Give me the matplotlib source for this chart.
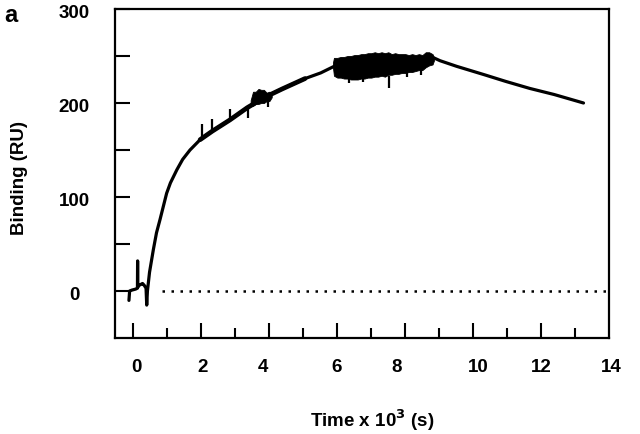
import matplotlib
matplotlib.use("Agg")
import matplotlib.pyplot as plt
import matplotlib.transforms as mtransforms

plt.rcParams['font.family'] = ['Liberation Sans', 'DejaVu Sans']
plt.rcParams['font.weight'] = 'bold'

# main sensorgram trace (time x 10^3 s, binding RU)
time_k = [-0.13, -0.11, -0.04, 0.065, 0.12, 0.125, 0.13, 0.168, 0.22, 0.27, 0.32, 0.373,
          0.393, 0.414, 0.476, 0.588, 0.681, 0.784, 0.979, 1.09, 1.28, 1.45, 1.666, 1.964,
          2.32, 2.84, 3.35, 3.86, 4.38, 5.05, 5.51, 5.96, 6.43, 7.05, 7.66, 8.28,
          8.84, 9.02, 9.51, 10.33, 10.95, 11.66, 12.38, 13.24]
binding = [-10, 0, 1, 2, 3, 32, 4, 6, 7, 8, 6, 3,
           -15, 0, 20, 44, 62, 76, 104, 115, 129, 140, 150, 161,
           170, 182, 195, 206, 215, 226, 232, 240, 240, 239, 241, 243,
           248, 245, 239, 230, 223, 215.5, 209, 200]

# noisy band near steady state (upper / lower envelope)
band_x = [5.87, 5.90, 6.00, 6.10, 6.20, 6.30, 6.40, 6.50, 6.60, 6.70, 6.80, 6.90,
          7.00, 7.10, 7.20, 7.30, 7.40, 7.50, 7.60, 7.70, 7.80, 7.90, 8.00, 8.10,
          8.20, 8.30, 8.40, 8.50, 8.60, 8.70, 8.80, 8.84]
band_hi = [243, 248, 248, 249, 249, 250, 250, 251, 251, 252, 252, 253,
           253, 254, 253, 254, 253, 254, 252, 253, 252, 252, 252, 251,
           252, 251, 252, 251, 254, 254, 252, 249]
band_lo = [238, 229, 227, 227, 226, 226, 225, 225, 225, 226, 226, 227,
           227, 228, 228, 229, 228, 230, 230, 231, 231, 232, 232, 233,
           233, 234, 235, 235, 238, 240, 241, 245]

# small noisy block
blk_x = [3.45, 3.52, 3.60, 3.68, 3.76, 3.84, 3.92, 4.00, 4.07]
blk_hi = [203, 212, 212, 215, 214, 214, 211, 212, 211]
blk_lo = [198, 197, 199, 199, 200, 200, 202, 202, 206]

# injection spikes / streaks (x, from, to)
spike_x = [2.02, 2.32, 2.85, 3.38, 3.97, 6.35, 6.75, 7.53, 8.05, 8.45]
spike_from = [162, 168, 182, 196, 207, 230, 230, 229, 236, 238]
spike_to = [178, 183, 194, 184, 196, 221, 222, 216, 228, 230]

# zero reference line
zero_x = [0.85, 13.9]
zero_y = [0, 0]

xticks_major = [0, 2, 4, 6, 8, 10, 12]
xticks_minor = [1, 3, 5, 7, 9, 11, 13]
xlabel_pos = [0.10, 2.05, 3.81, 5.99, 7.73, 10.14, 12.01, 14.07]
xlabel_txt = ['0', '2', '4', '6', '8', '10', '12', '14']
yticks = [0, 50, 100, 150, 200, 250, 300]
ytick_labels = ['0', '', '100', '', '200', '', '300']

fig = plt.figure(figsize=(6.4, 4.34), dpi=100)
ax = fig.add_axes([115 / 640, (434 - 338) / 434, (609 - 115) / 640, (338 - 9) / 434])

ax.plot(zero_x, zero_y, color='black', lw=1.8, linestyle=(0, (1, 2.6)), dash_capstyle='butt')
ax.plot(time_k, binding, color='black', lw=2.3, solid_capstyle='round', solid_joinstyle='round')
ax.plot(time_k[23:30], binding[23:30], color='black', lw=3.4, solid_capstyle='round')
ax.fill_between(band_x, band_lo, band_hi, color='black', lw=0.6, edgecolor='black')
ax.fill_between(blk_x, blk_lo, blk_hi, color='black', lw=0.6, edgecolor='black')
ax.vlines(spike_x, spike_from, spike_to, color='black', lw=1.6)

ax.set_xlim(-0.54, 13.99)
ax.set_ylim(-50, 300)

for s in ax.spines.values():
    s.set_linewidth(1.6)

ax.set_xticks(xticks_major)
ax.set_xticklabels([''] * len(xticks_major))
ax.set_xticks(xticks_minor, minor=True)
ax.set_yticks(yticks)
ax.set_yticklabels(ytick_labels)

ax.tick_params(axis='x', which='major', direction='in', length=10.8, width=1.5)
ax.tick_params(axis='x', which='minor', direction='in', length=7.2, width=1.5)
ax.tick_params(axis='y', which='major', direction='in', length=10.8, width=1.5,
               pad=29.5, labelsize=13.5)
ax.tick_params(top=False, right=False)
shift = mtransforms.ScaledTranslation(0, -3 / 100, fig.dpi_scale_trans)
for lbl in ax.get_yticklabels():
    lbl.set_fontweight('bold')
    lbl.set_horizontalalignment('center')
    lbl.set_transform(lbl.get_transform() + shift)

blend = mtransforms.blended_transform_factory(ax.transData, ax.transAxes)
for xp, t in zip(xlabel_pos, xlabel_txt):
    ax.text(xp, -30 / 329, t, transform=blend, ha='center', va='center',
            fontsize=13.5, fontweight='bold', clip_on=False)

fig.text(20 / 640, 1 - 178 / 434, 'Binding (RU)', rotation=90, ha='center', va='center',
         fontsize=13.5, fontweight='bold')
fig.text(372 / 640, 1 - 420 / 434, 'Time x 10$^{\\mathbf{3}}$ (s)', ha='center', va='center',
         fontsize=13.5, fontweight='bold')
fig.text(4 / 640, 1 - 4 / 434, 'a', ha='left', va='top', fontsize=17, fontweight='bold')

fig.savefig('out.png', dpi=100)
